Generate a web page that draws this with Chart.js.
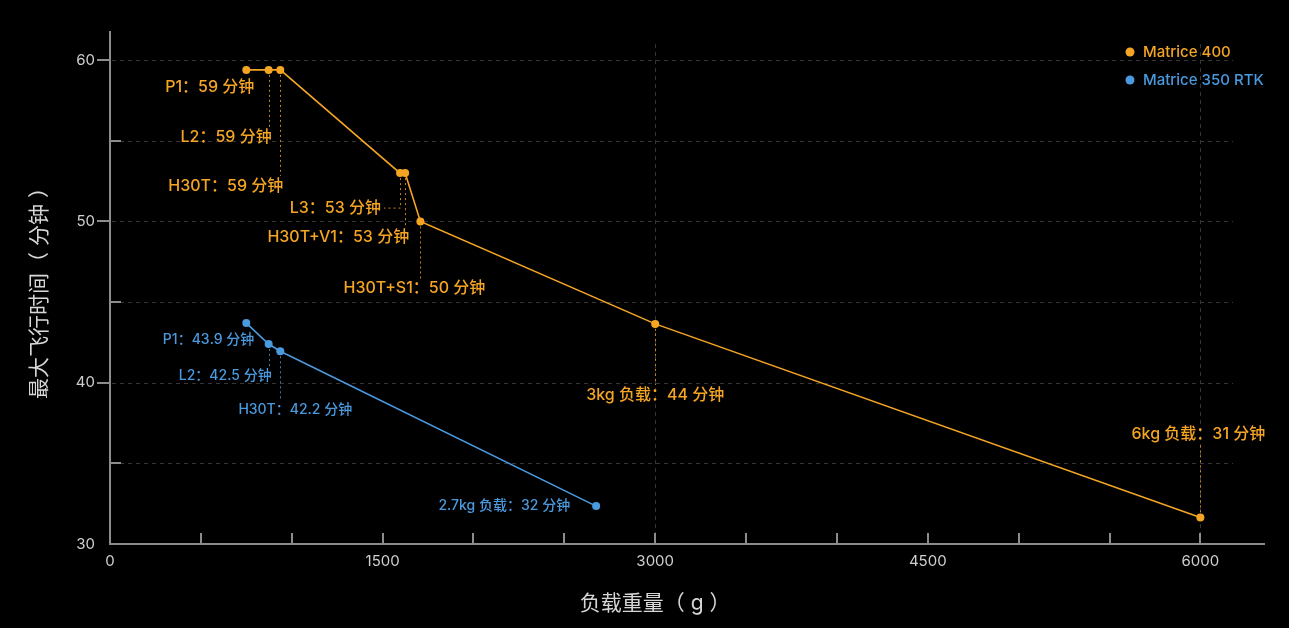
<!DOCTYPE html>
<html>
<head>
<meta charset="utf-8">
<script src="https://cdn.jsdelivr.net/npm/chart.js@4.4.1/dist/chart.umd.min.js"></script>
<style>
  html, body { margin: 0; padding: 0; background: #000; }
  #wrap { width: 1289px; height: 628px; position: relative; }
</style>
</head>
<body>
<div id="wrap"><canvas id="chart"></canvas></div>
<script>
// payload weight (g) and max flight time (min)
const m400Weights = [750, 873, 937, 1596, 1624, 1708, 3000, 6000];
const m400Times = [59.4, 59.4, 59.4, 53.0, 53.0, 50.0, 43.65, 31.65];
const m400Labels = ['P1：59 分钟', 'L2：59 分钟', 'H30T：59 分钟', 'L3：53 分钟', 'H30T+V1：53 分钟', 'H30T+S1：50 分钟', '3kg 负载：44 分钟', '6kg 负载：31 分钟'];

const m350Weights = [750, 873, 937, 2675];
const m350Times = [43.7, 42.4, 41.95, 32.35];
const m350Labels = ['P1：43.9 分钟', 'L2：42.5 分钟', 'H30T：42.2 分钟', '2.7kg 负载：32 分钟'];

const xTicks = [0, 1500, 3000, 4500, 6000];
const xMinorTicks = [500, 1000, 1500, 2000, 2500, 3000, 3500, 4000, 4500, 5000, 5500, 6000];
const yTicks = [30, 40, 50, 60];
const yMinorTicks = [35, 45, 55];
const yGrid = [35, 40, 45, 50, 55, 60];
const xGrid = [3000, 6000];

const ORANGE = '#f5a524';
const BLUE = '#4a9ae0';
const FONT = "Inter, 'Noto Sans CJK SC', sans-serif";

// label placement relative to each point (px)
const m400Place = [
  { align: 'right', dx: 8, dy: 17 },
  { align: 'right', dx: 3, dy: 67, leader: 'v' },
  { align: 'right', dx: 3, dy: 116, leader: 'v' },
  { align: 'right', dx: -19, dy: 35, leader: 'elbow' },
  { align: 'right', dx: 4, dy: 64, leader: 'v' },
  { align: 'center', dx: -6, dy: 67, leader: 'v' },
  { align: 'center', dx: 0, dy: 71, leader: 'v' },
  { align: 'center', dx: -2, dy: -83, leader: 'v' },
];
const m350Place = [
  { align: 'right', dx: 8, dy: 17 },
  { align: 'right', dx: 3, dy: 32, leader: 'v' },
  { align: 'center', dx: 15, dy: 59, leader: 'v' },
  { align: 'right', dx: -26, dy: 0 },
];

const overlay = {
  id: 'overlay',
  beforeDatasetsDraw(chart) {
    const { ctx, scales: { x, y } } = chart;
    ctx.save();
    ctx.strokeStyle = '#363636';
    ctx.lineWidth = 1;
    ctx.setLineDash([4, 4]);
    yGrid.forEach(v => {
      const py = Math.round(y.getPixelForValue(v)) + 0.5;
      ctx.beginPath();
      ctx.moveTo(x.left + 2, py);
      ctx.lineTo(x.getPixelForValue(6180), py);
      ctx.stroke();
    });
    xGrid.forEach(v => {
      const px = Math.round(x.getPixelForValue(v)) + 0.5;
      ctx.beginPath();
      ctx.moveTo(px, y.getPixelForValue(61));
      ctx.lineTo(px, y.bottom);
      ctx.stroke();
    });
    ctx.restore();

    // leader lines
    const drawLeaders = (meta, place, color) => {
      ctx.save();
      ctx.strokeStyle = color;
      ctx.globalAlpha = 0.8;
      ctx.lineWidth = 1;
      ctx.setLineDash([2, 3]);
      meta.data.forEach((pt, i) => {
        const p = place[i];
        if (!p.leader) return;
        const px = Math.round(pt.x) + 0.5;
        const ly = pt.y + p.dy;
        ctx.beginPath();
        if (p.leader === 'elbow') {
          ctx.moveTo(px, pt.y + 5);
          ctx.lineTo(px, ly);
          ctx.lineTo(pt.x + p.dx + 3, ly);
        } else if (p.dy > 0) {
          ctx.moveTo(px, pt.y + 5);
          ctx.lineTo(px, ly - 10);
        } else {
          ctx.moveTo(px, pt.y - 5);
          ctx.lineTo(px, ly + 10);
        }
        ctx.stroke();
      });
      ctx.restore();
    };
    drawLeaders(chart.getDatasetMeta(0), m400Place, ORANGE);
    drawLeaders(chart.getDatasetMeta(1), m350Place, BLUE);
  },
  afterDatasetsDraw(chart) {
    const { ctx, scales: { x, y }, chartArea } = chart;
    const drawLabels = (meta, texts, place, color, size) => {
      ctx.save();
      ctx.fillStyle = color;
      ctx.font = `500 ${size}px ${FONT}`;
      ctx.textBaseline = 'middle';
      meta.data.forEach((pt, i) => {
        const p = place[i];
        ctx.textAlign = p.align;
        ctx.fillText(texts[i], pt.x + p.dx, pt.y + p.dy);
      });
      ctx.restore();
    };
    drawLabels(chart.getDatasetMeta(0), m400Labels, m400Place, ORANGE, 16);
    drawLabels(chart.getDatasetMeta(1), m350Labels, m350Place, BLUE, 14);

    // axis tick marks
    ctx.save();
    ctx.strokeStyle = '#8c8c8c';
    ctx.lineWidth = 2;
    yTicks.filter(v => v > 30).forEach(v => {
      const py = Math.round(y.getPixelForValue(v));
      ctx.beginPath(); ctx.moveTo(x.left - 13, py); ctx.lineTo(x.left, py); ctx.stroke();
    });
    yMinorTicks.forEach(v => {
      const py = Math.round(y.getPixelForValue(v));
      ctx.beginPath(); ctx.moveTo(x.left, py); ctx.lineTo(x.left + 11, py); ctx.stroke();
    });
    xMinorTicks.forEach(v => {
      const px = Math.round(x.getPixelForValue(v));
      ctx.beginPath(); ctx.moveTo(px, y.bottom); ctx.lineTo(px, y.bottom - 11); ctx.stroke();
    });
    ctx.restore();

    // x axis title
    ctx.save();
    ctx.fillStyle = '#d6d6d6';
    ctx.font = `400 21px ${FONT}`;
    ctx.textAlign = 'center';
    ctx.textBaseline = 'middle';
    ctx.fillText('负载重量（ g ）', x.getPixelForValue(3000), 604);
    ctx.restore();

    // legend
    ctx.save();
    ctx.font = `500 15px ${FONT}`;
    ctx.textBaseline = 'middle';
    ctx.textAlign = 'left';
    chart.data.datasets.forEach((ds, i) => {
      const ly = chartArea.top + 20 + i * 28;
      const lx = chartArea.right - 134;
      ctx.fillStyle = ds.borderColor;
      ctx.beginPath(); ctx.arc(lx, ly, 4.5, 0, Math.PI * 2); ctx.fill();
      ctx.fillText(ds.label, lx + 13, ly);
    });
    ctx.restore();
  }
};

new Chart(document.getElementById('chart'), {
  type: 'line',
  data: {
    datasets: [
      {
        label: 'Matrice 400',
        data: m400Weights.map((w, i) => ({ x: w, y: m400Times[i] })),
        borderColor: ORANGE,
        backgroundColor: ORANGE,
        borderWidth: 1.6,
        pointRadius: 4,
        pointBorderWidth: 0,
        tension: 0,
      },
      {
        label: 'Matrice 350 RTK',
        data: m350Weights.map((w, i) => ({ x: w, y: m350Times[i] })),
        borderColor: BLUE,
        backgroundColor: BLUE,
        borderWidth: 1.6,
        pointRadius: 4,
        pointBorderWidth: 0,
        tension: 0,
      },
    ],
  },
  options: {
    responsive: true,
    maintainAspectRatio: false,
    animation: false,
    layout: { padding: { left: 0, top: 32, right: 25, bottom: 0 } },
    plugins: {
      legend: { display: false },
      tooltip: { enabled: false },
    },
    scales: {
      x: {
        type: 'linear',
        min: 0,
        max: 6350,
        afterBuildTicks: scale => { scale.ticks = xTicks.map(v => ({ value: v })); },
        afterFit: scale => { scale.height = 84; },
        grid: { display: false, drawTicks: false },
        border: { display: true, color: '#8c8c8c', width: 2 },
        ticks: { color: '#cfcfcf', font: { family: FONT, size: 15 }, padding: 8, maxRotation: 0, callback: v => String(v) },
      },
      y: {
        min: 30,
        max: 61.75,
        afterBuildTicks: scale => { scale.ticks = yTicks.map(v => ({ value: v })); },
        afterFit: scale => { scale.width = 110; },
        grid: { display: false, drawTicks: false },
        border: { display: true, color: '#8c8c8c', width: 2 },
        ticks: { color: '#cfcfcf', font: { family: FONT, size: 15 }, padding: 15, callback: v => String(v) },
        title: {
          display: true,
          text: '最大飞行时间（ 分钟 ）',
          color: '#d6d6d6',
          font: { family: FONT, size: 21 },
          padding: { top: 27, bottom: 0 },
        },
      },
    },
  },
  plugins: [overlay],
});
</script>
</body>
</html>
